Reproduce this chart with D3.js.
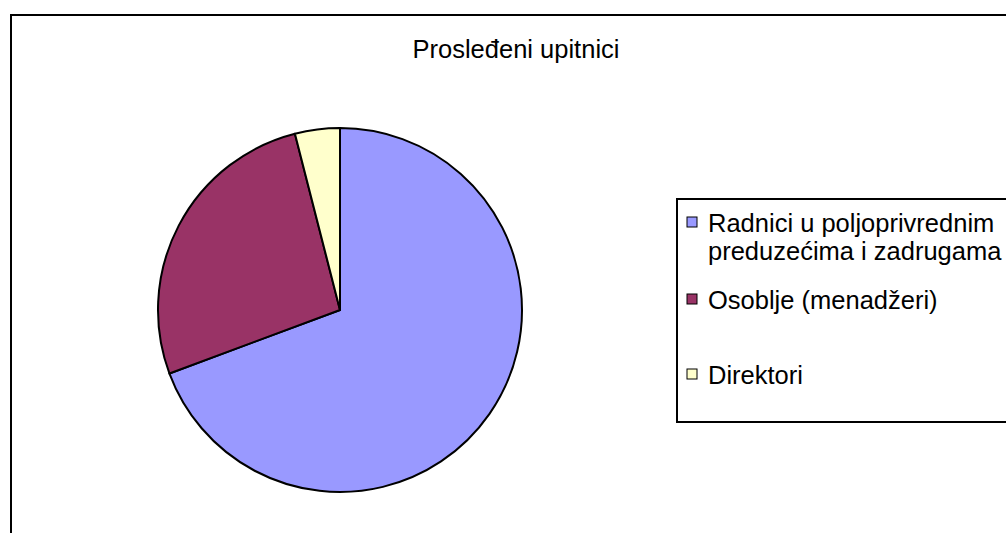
<!DOCTYPE html>
<html>
<head>
<meta charset="utf-8">
<script src="https://cdn.jsdelivr.net/npm/d3@7"></script>
<style>
  body { margin: 0; background: #fff; }
  svg { display: block; font-family: "Liberation Sans", Arial, sans-serif; }
</style>
</head>
<body>
<svg id="chart" width="1006" height="533"></svg>
<script>
var categories = ["Radnici u poljoprivrednim preduzećima i zadrugama", "Osoblje (menadžeri)", "Direktori"];
var legendLines = [["Radnici u poljoprivrednim", "preduzećima i zadrugama"], ["Osoblje (menadžeri)"], ["Direktori"]];
var values = [174, 67, 10];
var colors = ["#9999ff", "#993366", "#ffffcc"];
var title = "Prosleđeni upitnici";

var svg = d3.select("#chart");

// outer chart frame (runs off right and bottom)
svg.append("rect")
  .attr("x", 11).attr("y", 15)
  .attr("width", 1100).attr("height", 600)
  .attr("fill", "none").attr("stroke", "#000").attr("stroke-width", 2);

svg.append("text")
  .attr("x", 516).attr("y", 58)
  .attr("text-anchor", "middle")
  .attr("font-size", 25.5)
  .text(title);

var cx = 340, cy = 310, r = 182;

var pie = d3.pie().sort(null).value(function(d){ return d; });
var arc = d3.arc().innerRadius(0).outerRadius(r);

var g = svg.append("g").attr("transform", "translate(" + cx + "," + cy + ")");
g.selectAll("path")
  .data(pie(values))
  .enter().append("path")
  .attr("d", arc)
  .attr("fill", function(d, i){ return colors[i]; })
  .attr("stroke", "#000")
  .attr("stroke-width", 2)
  .attr("stroke-linejoin", "round");

// legend
svg.append("rect")
  .attr("x", 677).attr("y", 199)
  .attr("width", 400).attr("height", 223)
  .attr("fill", "#fff").attr("stroke", "#000").attr("stroke-width", 2);

var rowY = [222, 299, 374];
var lg = svg.append("g");
legendLines.forEach(function(lines, i){
  lg.append("rect")
    .attr("x", 687).attr("y", rowY[i] - 5)
    .attr("width", 10).attr("height", 10)
    .attr("fill", colors[i]).attr("stroke", "#000").attr("stroke-width", 1);
  lines.forEach(function(t, j){
    lg.append("text")
      .attr("x", 708).attr("y", rowY[i] + 10 + j * 28)
      .attr("font-size", 25.5)
      .text(t);
  });
});
</script>
</body>
</html>
